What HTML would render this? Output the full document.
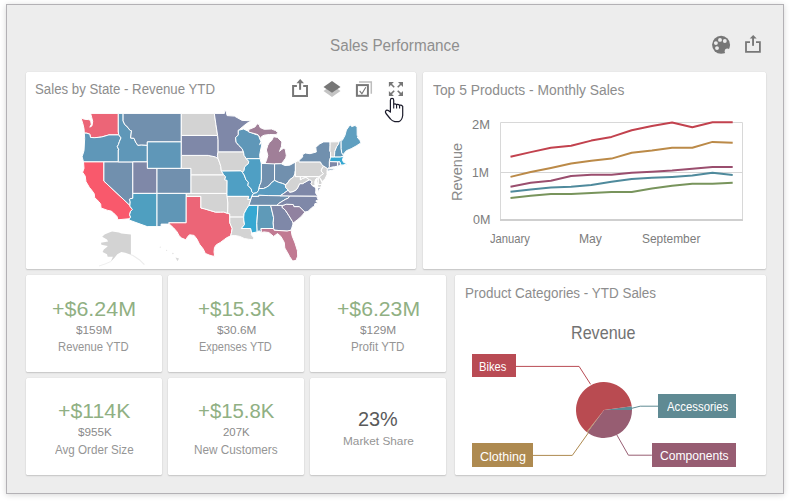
<!DOCTYPE html>
<html><head><meta charset="utf-8">
<style>
html,body{margin:0;padding:0;background:#fff;width:790px;height:502px;overflow:hidden;}
body{position:relative;font-family:"Liberation Sans",sans-serif;}
.frame{position:absolute;left:6px;top:4px;width:776px;height:488px;border:1px solid #b3b1b5;background:#ededed;box-shadow:0 1px 6px rgba(0,0,0,0.16);}
.card{position:absolute;background:#fff;border-radius:1.5px;box-shadow:0 1px 1.5px rgba(0,0,0,0.16),0 0 1px rgba(0,0,0,0.14);}
.t{position:absolute;white-space:nowrap;line-height:1;}
.ct{color:#8a8a8a;font-size:13.3px;}
.kv{color:#8eae80;font-size:20.8px;text-align:center;}
.ks{color:#858585;font-size:11.5px;text-align:center;}
.kl{color:#8f8f8f;font-size:11px;text-align:center;}
.ax{color:#7d7d7d;font-size:12px;}
.lbl{position:absolute;color:#fff;font-size:12.5px;line-height:24px;text-align:center;overflow:hidden;}
svg{position:absolute;left:0;top:0;}
</style></head><body>
<div class="frame"></div>

<div class="card" style="left:26px;top:72px;width:390px;height:197px"></div>
<div class="card" style="left:423px;top:72px;width:343px;height:197px"></div>
<div class="card" style="left:26px;top:275px;width:136px;height:97px"></div>
<div class="card" style="left:168px;top:275px;width:136px;height:97px"></div>
<div class="card" style="left:310px;top:275px;width:136px;height:97px"></div>
<div class="card" style="left:26px;top:378px;width:136px;height:97px"></div>
<div class="card" style="left:168px;top:378px;width:136px;height:97px"></div>
<div class="card" style="left:310px;top:378px;width:136px;height:97px"></div>
<div class="card" style="left:455px;top:275px;width:311px;height:200px"></div>



<div class="t" style="left:422px;top:164.5px;width:70px;text-align:center;font-size:14.5px;color:#8a8a8a;transform:rotate(-90deg);transform-origin:35px 7px">Revenue</div>

<div class="lbl" style="left:472.2px;top:354.1px;width:43.6px;height:23.4px;line-height:26.5px;background:#b94b54;font-size:11px"></div>
<div class="lbl" style="left:658.2px;top:394px;width:77.5px;height:23.6px;line-height:26.6px;background:#5f8a93;font-size:11.5px"></div>
<div class="lbl" style="left:472.2px;top:443.1px;width:60.6px;height:23.5px;line-height:26.5px;background:#ae8a50;font-size:12px"></div>
<div class="lbl" style="left:651.9px;top:443.1px;width:83.8px;height:23.5px;line-height:25.5px;background:#975d72;font-size:12px"></div>

<svg width="790" height="502" viewBox="0 0 790 502">
<g stroke="#fff" stroke-width="1" stroke-linejoin="round">
<path d="M87.9,113.4L118.3,113.4L118.3,132.0L118.8,134.9L108.8,134.9L107.3,135.4L101.5,137.0L98.1,137.4L94.2,137.7L90.5,137.4L89.8,134.2L86.9,133.2L84.3,133.1L84.0,128.6L82.8,123.6L81.0,118.0L84.5,119.3L88.4,119.6L90.6,120.4L91.3,124.3L89.8,127.2L92.0,125.8L92.7,121.4L91.8,117.8L90.6,113.4Z" fill="#ec6577"/>
<path d="M84.3,133.1L86.9,133.2L89.8,134.2L90.5,137.4L94.2,137.7L98.1,137.4L101.5,137.0L107.3,135.4L108.8,134.9L118.8,134.9L121.0,137.9L119.5,141.3L118.4,144.6L117.3,146.6L118.9,150.0L118.3,150.0L118.3,161.9L83.5,161.9L82.1,156.7L84.0,150.7L84.7,138.4L84.3,133.1Z" fill="#5f97b8"/>
<path d="M83.5,161.9L103.9,161.9L103.9,181.1L129.9,205.4L130.2,206.6L132.4,209.5L130.6,211.3L129.6,214.8L130.6,217.1L129.5,218.7L117.9,219.8L117.0,216.5L113.6,213.0L111.2,211.1L107.8,210.4L101.0,208.0L100.7,204.2L99.0,201.8L94.7,197.6L94.2,193.7L91.8,190.3L89.3,187.3L86.0,181.7L85.2,176.1L82.6,172.2L84.0,168.4L83.5,161.9Z" fill="#f9596c"/>
<path d="M103.9,161.9L132.8,161.9L132.8,198.2L130.1,198.8L129.4,199.4L130.2,201.8L129.9,205.4L103.9,181.1Z" fill="#7190ae"/>
<path d="M118.3,113.4L123.1,113.4L123.1,120.9L124.8,124.7L126.7,126.1L130.1,130.4L131.5,130.7L130.6,138.0L134.0,138.3L135.7,142.2L137.8,145.3L141.2,144.9L147.3,145.3L147.3,161.9L118.3,161.9L118.3,150.0L118.9,150.0L117.3,146.6L118.4,144.6L119.5,141.3L121.0,137.9L118.8,134.9L118.3,132.0Z" fill="#5f97b8"/>
<path d="M123.1,113.4L181.3,113.4L181.3,141.9L147.3,141.9L147.3,145.3L141.2,144.9L137.8,145.3L135.7,142.2L134.0,138.3L130.6,138.0L131.5,130.7L130.1,130.4L126.7,126.1L124.8,124.7L123.1,120.9Z" fill="#7190ae"/>
<path d="M147.3,141.9L181.3,141.9L181.3,168.4L147.3,168.4Z" fill="#5f97b8"/>
<path d="M132.8,161.9L147.3,161.9L147.3,168.4L157.0,168.4L157.0,193.4L132.8,193.4Z" fill="#7f88a8"/>
<path d="M157.0,168.4L191.0,168.4L191.0,193.4L157.0,193.4Z" fill="#7190ae"/>
<path d="M132.8,193.4L157.0,193.4L157.0,226.6L147.2,226.6L129.0,220.0L129.5,218.7L130.6,217.1L129.6,214.8L130.6,211.3L132.4,209.5L130.2,206.6L129.9,205.4L130.2,201.8L129.4,199.4L130.1,198.8L132.8,198.2Z" fill="#4f9fc0"/>
<path d="M157.0,193.4L186.3,193.4L186.2,222.8L168.8,222.8L169.4,224.1L161.1,224.1L161.1,226.6L157.0,226.6Z" fill="#6096b6"/>
<path d="M186.2,196.4L200.9,196.4L200.9,208.0L204.8,208.9L210.1,210.5L215.4,212.1L220.3,212.1L223.7,212.0L227.7,213.4L229.8,213.9L229.8,222.8L231.0,225.7L232.2,228.5L231.5,232.5L230.7,235.8L226.6,237.8L224.7,239.2L220.3,242.5L216.4,244.7L214.5,247.4L214.0,251.8L214.7,256.3L212.1,255.9L209.1,255.0L205.3,253.4L203.3,249.1L199.4,244.1L197.0,239.2L194.1,235.4L189.7,234.8L187.8,236.4L185.9,239.8L181.7,238.1L179.1,235.8L177.1,231.9L173.7,228.0L169.4,224.1L168.8,222.8L186.2,222.8Z" fill="#ec6577"/>
<path d="M186.3,193.4L227.0,193.4L227.9,203.0L227.7,213.4L223.7,212.0L220.3,212.1L215.4,212.1L210.1,210.5L204.8,208.9L200.9,208.0L200.9,196.4L186.3,196.4Z" fill="#d3d3d3"/>
<path d="M191.0,174.8L223.7,174.8L225.6,176.7L224.7,179.8L227.1,180.4L227.0,193.4L191.0,193.4Z" fill="#d3d3d3"/>
<path d="M181.3,155.4L208.2,155.4L215.4,156.9L218.1,158.7L219.8,163.2L220.8,166.5L221.3,171.0L223.7,174.8L191.0,174.8L191.0,168.4L181.3,168.4Z" fill="#d3d3d3"/>
<path d="M181.3,135.4L217.6,135.4L218.1,139.8L218.1,152.0L217.4,155.4L218.1,158.7L215.4,156.9L208.2,155.4L181.3,155.4Z" fill="#7f88a8"/>
<path d="M181.3,113.4L214.3,113.4L215.9,124.3L217.6,135.4L181.3,135.4Z" fill="#d3d3d3"/>
<path d="M214.3,113.4L224.4,113.4L224.4,110.6L226.1,111.2L227.1,115.6L234.4,116.1L242.1,120.4L251.3,120.8L246.5,123.6L242.1,127.2L239.2,129.7L238.3,130.3L238.3,134.9L235.6,137.7L236.1,142.2L238.7,145.3L242.1,148.7L243.5,152.0L218.1,152.0L218.1,139.8L217.6,135.4L215.9,124.3Z" fill="#7f88a8"/>
<path d="M218.1,152.0L243.5,152.0L244.1,155.4L246.2,158.7L248.7,161.3L248.4,163.6L246.5,165.2L244.5,167.1L244.1,170.3L242.5,172.4L241.0,170.9L221.4,171.1L221.3,171.0L220.8,166.5L219.8,163.2L218.1,158.7L217.4,155.4Z" fill="#d3d3d3"/>
<path d="M221.4,171.1L241.0,170.9L242.5,172.4L244.1,174.8L246.0,179.8L248.4,182.3L247.9,185.4L251.3,189.1L251.8,191.6L253.5,193.4L251.8,196.4L250.9,199.4L247.6,199.4L248.7,196.4L227.0,196.4L227.0,193.4L227.1,180.4L224.7,179.8L225.6,176.7L223.7,174.8Z" fill="#4f9fc4"/>
<path d="M227.0,196.4L248.7,196.4L247.6,199.4L250.9,199.4L248.9,205.4L246.5,208.9L244.1,213.6L243.7,217.1L229.8,217.1L229.8,213.9L227.7,213.4L227.9,203.0Z" fill="#d3d3d3"/>
<path d="M229.8,217.1L243.7,217.1L243.8,220.0L244.5,224.5L241.4,228.5L250.7,228.5L251.7,233.0L251.3,234.7L254.2,238.1L252.3,239.7L248.4,239.2L244.5,238.6L239.7,236.4L234.8,235.5L230.7,235.8L231.5,232.5L232.2,228.5L231.0,225.7L229.8,222.8Z" fill="#d3d3d3"/>
<path d="M238.3,130.3L243.6,129.0L247.5,130.9L254.2,133.9L258.6,135.3L259.8,139.1L261.0,141.2L259.6,144.6L262.0,142.6L261.5,146.0L260.6,150.0L259.6,155.4L260.1,158.7L246.3,158.7L244.1,155.4L243.5,152.0L242.1,148.7L238.7,145.3L236.1,142.2L235.6,137.7L238.3,134.9Z" fill="#5f97b8"/>
<path d="M246.3,158.7L260.1,158.7L261.4,163.9L261.4,179.2L261.0,182.3L259.6,185.4L258.9,188.5L258.6,190.3L256.7,192.8L253.5,193.4L251.8,191.6L251.3,189.1L247.9,185.4L248.4,182.3L246.0,179.8L244.1,174.8L242.5,172.4L244.1,170.3L244.5,167.1L246.5,165.2L248.4,163.6L248.7,161.3Z" fill="#4f9fc4"/>
<path d="M261.4,163.5L274.6,163.5L274.5,180.4L271.2,182.9L269.3,185.4L266.4,187.3L263.5,188.5L258.9,188.5L259.6,185.4L261.0,182.3L261.4,179.2Z" fill="#7190ae"/>
<path d="M264.9,163.5L274.6,163.9L281.2,163.7L282.9,161.9L285.8,158.0L286.3,155.4L285.3,149.3L283.8,148.3L281.9,149.3L279.5,151.4L281.4,146.6L281.9,141.9L277.5,137.4L273.6,136.7L271.7,140.5L269.3,142.6L267.8,145.3L266.4,150.0L267.8,155.4L266.4,160.6Z" fill="#a07f98"/>
<path d="M248.7,129.5L254.9,127.0L257.2,123.8L259.2,124.6L260.1,127.5L264.2,129.3L271.5,129.0L275.6,130.6L277.9,132.6L276.1,134.7L269.4,134.5L264.2,135.2L261.6,136.5L261.1,138.9L258.0,134.7L254.9,133.7L248.7,132.1Z" fill="#a07f98"/>
<path d="M274.6,163.9L281.2,163.7L284.8,165.5L289.7,165.2L295.4,162.1L295.4,170.7L295.0,173.5L293.8,176.7L289.7,179.8L287.2,183.6L285.3,184.7L282.4,183.4L278.5,182.3L274.5,180.4Z" fill="#7190ae"/>
<path d="M253.5,193.4L256.7,192.8L258.6,190.3L258.9,188.5L263.5,188.5L266.4,187.3L269.3,185.4L271.2,182.9L274.5,180.4L278.5,182.3L282.4,183.4L285.3,184.7L285.8,187.6L288.3,190.1L283.3,193.7L280.0,195.8L268.8,195.6L258.8,195.3L258.8,196.4L251.8,196.4Z" fill="#5a9bbf"/>
<path d="M258.8,195.3L268.8,195.6L280.0,195.8L289.7,195.9L288.2,198.2L285.3,199.4L282.9,200.9L278.5,203.6L277.0,205.4L270.7,205.4L258.1,205.4L248.9,205.4L250.9,199.4L251.8,196.4L258.8,196.4Z" fill="#7190ae"/>
<path d="M258.1,205.4L248.9,205.4L246.5,208.9L244.1,213.6L243.7,217.1L243.8,220.0L244.5,224.5L241.4,228.5L250.7,228.5L251.7,233.0L257.2,231.9L256.8,223.4Z" fill="#36a8d2"/>
<path d="M258.1,205.4L270.7,205.4L273.6,217.7L273.2,222.8L273.6,228.5L261.0,228.5L261.5,232.5L259.1,230.8L257.2,231.9L256.8,223.4Z" fill="#5f9ab8"/>
<path d="M270.7,205.4L282.9,205.4L281.9,207.2L285.3,210.1L288.7,215.3L292.6,221.7L293.0,224.0L291.1,230.2L288.2,230.8L287.2,231.1L274.1,230.2L273.6,228.5L273.2,222.8L273.6,217.7Z" fill="#7f88a8"/>
<path d="M261.0,228.5L273.6,228.5L274.1,230.2L287.2,231.1L288.2,230.8L291.1,230.2L292.1,235.8L295.0,243.0L297.4,250.7L297.7,256.1L296.0,260.4L292.6,261.0L289.7,256.7L287.7,252.9L284.8,248.0L284.3,242.5L280.9,236.4L277.5,233.6L273.6,236.4L268.8,232.5L263.9,231.9L261.5,232.5Z" fill="#c17a92"/>
<path d="M281.9,207.2L282.9,205.4L286.3,204.2L293.0,204.5L293.5,204.8L294.0,206.6L299.4,206.6L304.9,212.1L301.8,215.9L297.9,219.4L293.5,222.8L292.6,221.7L288.7,215.3L285.3,210.1Z" fill="#9182a0"/>
<path d="M277.0,205.4L282.9,205.4L286.3,204.2L293.0,204.5L293.5,204.8L294.0,206.6L299.4,206.6L304.9,212.1L308.1,211.3L312.0,207.4L314.4,206.3L314.9,203.6L317.8,203.3L315.8,200.9L318.3,199.7L317.1,197.6L317.9,196.1L289.7,195.9L288.2,198.2L285.3,199.4L282.9,200.9L278.5,203.6Z" fill="#7f88a8"/>
<path d="M280.0,195.8L289.7,195.9L317.9,196.1L315.8,193.4L316.1,187.9L312.4,185.7L311.0,183.6L312.2,181.7L310.0,179.7L308.3,180.3L305.9,181.7L302.7,183.6L299.6,183.7L297.9,187.3L296.4,189.7L293.0,191.6L289.7,192.2L288.3,190.1L283.3,193.7Z" fill="#7f88a8"/>
<path d="M317.5,187.6L320.9,187.1L317.5,192.8Z" fill="#7f88a8"/>
<path d="M295.4,170.7L295.4,176.6L300.4,176.6L300.4,179.8L302.7,178.3L305.9,177.3L308.8,179.2L308.3,180.3L305.9,181.7L302.7,183.6L299.6,183.7L297.9,187.3L296.4,189.7L293.0,191.6L289.7,192.2L288.3,190.1L285.8,187.6L285.3,184.7L287.2,183.6L289.7,179.8L293.8,176.7L295.0,173.5Z" fill="#d3d3d3"/>
<path d="M300.4,176.6L318.3,176.6L318.3,184.5L321.9,184.5L320.9,187.1L317.5,187.6L317.3,183.6L315.8,179.2L314.9,181.7L315.4,185.4L312.4,185.7L311.0,183.6L312.2,181.7L310.0,179.7L308.3,180.3L308.8,179.2L305.9,177.3L302.7,178.3L300.4,179.8Z" fill="#d3d3d3"/>
<path d="M318.3,176.6L320.2,176.1L319.5,177.3L321.9,182.3L321.9,184.5L318.3,184.5Z" fill="#d3d3d3"/>
<path d="M295.4,162.1L299.1,160.2L299.1,161.9L320.4,161.9L321.7,164.5L323.6,166.1L321.7,169.1L321.2,171.0L323.5,173.8L320.2,176.1L318.3,176.6L295.4,176.6Z" fill="#d3d3d3"/>
<path d="M323.6,166.1L327.5,168.5L327.0,171.3L327.0,174.8L325.1,178.6L322.4,181.5L319.5,177.3L320.2,176.1L323.5,173.8L321.2,171.0L321.7,169.1Z" fill="#d3d3d3"/>
<path d="M299.1,161.9L299.1,160.2L302.7,157.0L302.5,154.7L305.2,153.0L310.0,153.7L316.3,152.0L315.8,147.3L319.7,143.9L323.6,141.9L330.1,141.9L330.1,145.3L329.9,151.4L330.6,152.0L330.6,157.1L329.4,161.6L329.4,166.8L328.7,168.4L327.5,168.5L323.6,166.1L321.7,164.5L320.4,161.9Z" fill="#7190ae"/>
<path d="M327.2,170.0L328.5,169.1L333.8,168.7L337.4,168.0L332.8,170.0L327.5,171.1Z" fill="#7190ae"/>
<path d="M330.1,141.9L339.1,141.8L338.6,143.9L336.7,146.6L334.8,151.4L334.5,155.4L334.5,157.1L330.6,157.1L330.6,152.0L329.9,151.4L330.1,145.3Z" fill="#d3d3d3"/>
<path d="M339.1,141.8L341.1,139.8L341.2,148.7L341.7,152.7L343.0,154.7L343.5,156.2L340.3,157.1L334.5,157.1L334.5,155.4L334.8,151.4L336.7,146.6L338.6,143.9Z" fill="#5f97b8"/>
<path d="M341.1,139.8L342.3,140.3L344.9,135.6L346.4,130.0L350.1,124.7L351.7,126.6L355.1,125.4L357.1,127.4L357.2,135.3L358.8,137.7L357.1,137.0L360.0,140.5L360.9,142.9L356.1,146.0L351.2,148.7L346.4,150.7L343.0,154.7L341.7,152.7L341.2,148.7Z" fill="#5f9fc0"/>
<path d="M329.4,161.6L330.6,157.1L334.5,157.1L340.3,157.1L343.5,156.2L342.5,160.0L343.5,162.3L346.4,163.6L346.2,161.6L346.6,164.2L343.2,164.9L341.0,165.2L339.7,161.8L337.7,161.9Z" fill="#36a8d2"/>
<path d="M329.4,161.6L337.7,161.9L337.4,166.3L334.8,166.7L331.8,167.1L328.7,168.4L329.4,166.8Z" fill="#7f88a8"/>
<path d="M337.7,161.9L339.7,161.8L341.0,165.2L337.4,166.3Z" fill="#9aa4c0"/>
<path d="M317.2,193.7L315.8,192.8L316.1,190.3L315.8,187.9L315.1,185.4L314.9,182.9L315.4,180.4L316.8,177.9L317.5,178.6L316.6,181.1L317.1,183.6L317.8,186.0L318.0,189.7L317.5,192.8Z" fill="#ffffff"/>
</g>
<!-- chart frame -->
<path d="M500.5,219V122.5H742.5V219" fill="none" stroke="#d8d8d8" stroke-width="1"/>
<line x1="500" y1="220" x2="743" y2="220" stroke="#cfcfcf" stroke-width="2"/>
<line x1="500.5" y1="172.5" x2="742.5" y2="172.5" stroke="#d6d6d6" stroke-width="1"/>
<path d="M510.5,156.8L530.7,152.1L550.9,147.8L571.1,145.8L591.3,140.6L611.5,136.9L631.7,130.2L651.9,126.1L672.1,122.5L692.3,127.2L712.5,122.2L732.7,122.2" fill="none" stroke="#c2424e" stroke-width="2" stroke-linejoin="round"/>
<path d="M510.5,176.9L530.7,172.0L550.9,167.9L571.1,163.4L591.3,160.7L611.5,158.6L631.7,152.7L651.9,150.5L672.1,147.8L692.3,147.8L712.5,141.9L732.7,142.8" fill="none" stroke="#bb8a48" stroke-width="2" stroke-linejoin="round"/>
<path d="M510.5,186.7L530.7,182.8L550.9,180.8L571.1,176.0L591.3,174.7L611.5,174.7L631.7,172.7L651.9,171.7L672.1,170.6L692.3,168.8L712.5,167.0L732.7,167.0" fill="none" stroke="#9a4e6e" stroke-width="2" stroke-linejoin="round"/>
<path d="M510.5,191.8L530.7,189.4L550.9,187.6L571.1,186.7L591.3,184.9L611.5,181.7L631.7,178.9L651.9,177.8L672.1,176.9L692.3,175.6L712.5,172.7L732.7,175.1" fill="none" stroke="#4f8a9c" stroke-width="2" stroke-linejoin="round"/>
<path d="M510.5,197.9L530.7,195.7L550.9,193.9L571.1,193.9L591.3,193.0L611.5,192.1L631.7,192.0L651.9,188.5L672.1,185.8L692.3,183.7L712.5,183.7L732.7,182.8" fill="none" stroke="#78945c" stroke-width="2" stroke-linejoin="round"/>
<!-- pie -->
<path d="M604.0,410.0L631.76,406.35A28.0,28.0 0 0 1 632.00,410.00Z" fill="#5e8a94"/>
<path d="M604.0,410.0L632.00,410.00A28.0,28.0 0 0 1 587.38,432.54Z" fill="#975d72"/>
<path d="M604.0,410.0L587.38,432.54A28.0,28.0 0 0 1 586.61,431.94Z" fill="#ae8a50"/>
<path d="M604.0,410.0L586.61,431.94A28.0,28.0 0 1 1 631.76,406.35Z" fill="#b94b51"/>

<!-- alaska / hawaii -->
<path d="M112.1,231.6L118.9,232.4L121.3,233.6L130.9,234.4L130.9,254.7L125.3,252.7L121.3,251.9L117.3,254.3L114.1,258.3L110.9,261.5L112.9,256.7L107.7,256.7L107,254.3L102.6,251.9L103.8,249.5L107,247.1L107.7,245.9L101.4,244.7L101,242.7L108.1,241.5L107,239.6L102.2,236.8L104.6,234.4L109.3,232.4Z" fill="#d3d3d3"/>
<path d="M130.9,254.7L133,255.5L139.6,259.9L144.4,264.7" fill="none" stroke="#ececec" stroke-width="1.2"/>
<path d="M110.9,261.5L105,264L99,266" fill="none" stroke="#f0f0f0" stroke-width="1"/>
<path d="M175.5,257.5L179,258.5L177.5,261.2Z" fill="#d8d8d8"/>
<circle cx="160.3" cy="247.2" r="0.6" fill="#e6e6e6"/><circle cx="166.6" cy="250.4" r="0.6" fill="#e6e6e6"/><circle cx="172.9" cy="253.5" r="0.7" fill="#e0e0e0"/>

<!-- header icons -->
<circle cx="721.1" cy="44.8" r="9" fill="#777"/>
<circle cx="727.3" cy="51.2" r="2.6" fill="#ededed"/>
<circle cx="715.9" cy="43.1" r="1.95" fill="#ededed"/>
<circle cx="720" cy="39.9" r="1.95" fill="#ededed"/>
<circle cx="724.8" cy="41" r="1.95" fill="#ededed"/>
<circle cx="717" cy="48.1" r="1.95" fill="#ededed"/>
<path d="M750,42.1H746V51.9H759.9V42.1H756" fill="none" stroke="#777" stroke-width="1.8"/>
<rect x="752.1" y="38" width="1.9" height="7.8" fill="#777"/>
<path d="M749.7,38.6L756.7,38.6L753.2,34.9Z" fill="#777"/>

<!-- map card icons -->
<path d="M296.9,86.1H293.1V95.9H307V86.1H303.2" fill="none" stroke="#777" stroke-width="2"/>
<rect x="299.1" y="82.4" width="2" height="7.4" fill="#777"/>
<path d="M296.5,83.3L304,83.3L300.2,79Z" fill="#777"/>
<path d="M323.5,91L332,85L340.5,91L332,96.9Z" fill="#c4c4c4"/>
<path d="M323.5,87L332,81.1L340.5,87L332,92.7Z" fill="#777"/>
<path d="M359,82H371.3V93.7" fill="none" stroke="#bdbdbd" stroke-width="1.5"/>
<rect x="356.9" y="85.1" width="11" height="10.7" fill="#fff" stroke="#777" stroke-width="2"/>
<path d="M359.6,90.8L361.9,93.7L365.8,87.3" fill="none" stroke="#777" stroke-width="1.1"/>
<g fill="#777" stroke="#777">
<path d="M388.9,81.9H393.9L388.9,86.9Z" stroke="none"/><path d="M390,83L394.2,87.2" stroke-width="1.6"/>
<path d="M403,81.9H398L403,86.9Z" stroke="none"/><path d="M401.9,83L397.7,87.2" stroke-width="1.6"/>
<path d="M388.9,96H393.9L388.9,91Z" stroke="none"/><path d="M390,94.9L394.2,90.7" stroke-width="1.6"/>
<path d="M403,96H398L403,91Z" stroke="none"/><path d="M401.9,94.9L397.7,90.7" stroke-width="1.6"/>
</g>
<!-- hand cursor -->
<path d="M390.4,112.2V100.2Q390.4,98.4 392.05,98.4Q393.7,98.4 393.7,100.2V104.3Q395.1,103.3 396.6,104.6Q398.1,104 399.6,105.3Q401.2,104.6 402.7,106.3V115.5Q402,120.5 398.8,121.6H394.8Q392,121 390.5,119L386,113.5Q384.8,111.5 386.2,110.4Q387.8,109.6 390.4,112.2Z" fill="#fff" stroke="#1b1b2b" stroke-width="1.2" stroke-linejoin="round"/>
<path d="M393.7,104.3V108.6M396.6,104.6V108.6M399.6,105.3V108.6" stroke="#1b1b2b" stroke-width="1.1" fill="none"/>

<!-- pie connectors -->
<path d="M515.8,366.4H579.1L590.6,384.3" fill="none" stroke="#b94b54" stroke-width="1"/>
<path d="M631.8,408.3L640.2,406.2H658.2" fill="none" stroke="#5f8a93" stroke-width="1"/>
<path d="M616.9,435L628.4,455.2H651.9" fill="none" stroke="#975d72" stroke-width="1"/>
<path d="M532.8,455.4H572.3L588.4,432.8" fill="none" stroke="#ae8a50" stroke-width="1"/>
</svg>
<div class="t" style="left:330.27px;top:38.42px;font-size:15.78px;color:#8f8f8f;transform:scaleX(0.9674);transform-origin:0 0">Sales Performance</div>
<div class="t" style="left:35.43px;top:83.21px;font-size:13.97px;color:#8d8d8d;transform:scaleX(0.9474);transform-origin:0 0">Sales by State - Revenue YTD</div>
<div class="t" style="left:433.26px;top:83.95px;font-size:13.97px;color:#8d8d8d;transform:scaleX(0.9903);transform-origin:0 0">Top 5 Products - Monthly Sales</div>
<div class="t" style="left:465.20px;top:286.96px;font-size:13.97px;color:#8d8d8d;transform:scaleX(0.9625);transform-origin:0 0">Product Categories - YTD Sales</div>
<div class="t" style="left:52.48px;top:298.55px;font-size:20.67px;color:#90b083;transform:scaleX(1.0372);transform-origin:0 0">+$6.24M</div>
<div class="t" style="left:198.06px;top:298.55px;font-size:20.67px;color:#90b083;transform:scaleX(0.9939);transform-origin:0 0">+$15.3K</div>
<div class="t" style="left:336.87px;top:298.55px;font-size:20.67px;color:#90b083;transform:scaleX(1.0258);transform-origin:0 0">+$6.23M</div>
<div class="t" style="left:58.46px;top:400.50px;font-size:20.67px;color:#90b083;transform:scaleX(1.0292);transform-origin:0 0">+$114K</div>
<div class="t" style="left:198.25px;top:400.50px;font-size:20.67px;color:#90b083;transform:scaleX(0.9850);transform-origin:0 0">+$15.8K</div>
<div class="t" style="left:76.19px;top:324.61px;font-size:11.45px;color:#8a8a8a;transform:scaleX(1.0295);transform-origin:0 0">$159M</div>
<div class="t" style="left:216.53px;top:324.61px;font-size:11.45px;color:#8a8a8a;transform:scaleX(1.0306);transform-origin:0 0">$30.6M</div>
<div class="t" style="left:360.04px;top:324.61px;font-size:11.45px;color:#8a8a8a;transform:scaleX(1.0356);transform-origin:0 0">$129M</div>
<div class="t" style="left:78.17px;top:427.31px;font-size:11.45px;color:#8a8a8a;transform:scaleX(1.0230);transform-origin:0 0">$955K</div>
<div class="t" style="left:223.13px;top:427.31px;font-size:11.45px;color:#8a8a8a;transform:scaleX(0.9981);transform-origin:0 0">207K</div>
<div class="t" style="left:58.32px;top:340.64px;font-size:12.01px;color:#959595;transform:scaleX(0.9382);transform-origin:0 0">Revenue YTD</div>
<div class="t" style="left:199.25px;top:340.64px;font-size:12.01px;color:#959595;transform:scaleX(0.9118);transform-origin:0 0">Expenses YTD</div>
<div class="t" style="left:350.69px;top:340.64px;font-size:12.01px;color:#959595;transform:scaleX(0.9685);transform-origin:0 0">Profit YTD</div>
<div class="t" style="left:55.26px;top:443.69px;font-size:12.01px;color:#959595;transform:scaleX(0.9687);transform-origin:0 0">Avg Order Size</div>
<div class="t" style="left:193.99px;top:443.69px;font-size:12.01px;color:#959595;transform:scaleX(0.9803);transform-origin:0 0">New Customers</div>
<div class="t" style="left:358.17px;top:409.22px;font-size:20.25px;color:#5a5a5a;transform:scaleX(0.9814);transform-origin:0 0">23%</div>
<div class="t" style="left:342.87px;top:434.62px;font-size:11.73px;color:#959595;transform:scaleX(1.0084);transform-origin:0 0">Market Share</div>
<div class="t" style="left:471.96px;top:118.97px;font-size:12.15px;color:#7d7d7d;transform:scaleX(1.0646);transform-origin:0 0">2M</div>
<div class="t" style="left:472.30px;top:167.22px;font-size:12.15px;color:#7d7d7d;transform:scaleX(1.0042);transform-origin:0 0">1M</div>
<div class="t" style="left:473.09px;top:214.32px;font-size:12.15px;color:#7d7d7d;transform:scaleX(1.0303);transform-origin:0 0">0M</div>
<div class="t" style="left:490.14px;top:233.34px;font-size:12.15px;color:#7d7d7d;transform:scaleX(0.9252);transform-origin:0 0">January</div>
<div class="t" style="left:578.95px;top:233.34px;font-size:12.15px;color:#7d7d7d;transform:scaleX(0.9976);transform-origin:0 0">May</div>
<div class="t" style="left:642.15px;top:233.34px;font-size:12.15px;color:#7d7d7d;transform:scaleX(0.9829);transform-origin:0 0">September</div>
<div class="t" style="left:571.28px;top:324.68px;font-size:17.88px;color:#727272;transform:scaleX(0.9026);transform-origin:0 0">Revenue</div>
<div class="t" style="left:479.38px;top:360.82px;font-size:12.57px;color:#ffffff;transform:scaleX(0.8901);transform-origin:0 0">Bikes</div>
<div class="t" style="left:667.38px;top:401.37px;font-size:12.57px;color:#ffffff;transform:scaleX(0.9046);transform-origin:0 0">Accessories</div>
<div class="t" style="left:479.79px;top:450.97px;font-size:12.57px;color:#ffffff;transform:scaleX(0.9949);transform-origin:0 0">Clothing</div>
<div class="t" style="left:659.67px;top:449.62px;font-size:12.57px;color:#ffffff;transform:scaleX(0.9635);transform-origin:0 0">Components</div>
</body></html>
